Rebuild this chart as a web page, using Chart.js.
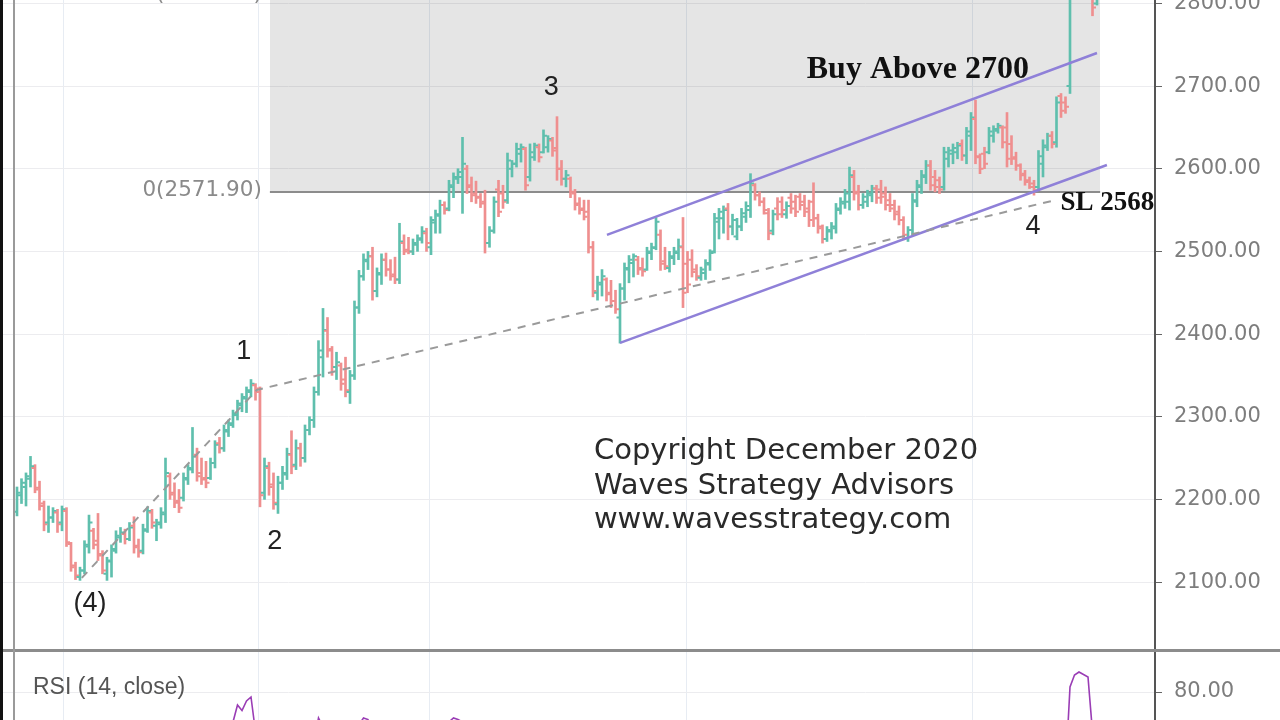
<!DOCTYPE html>
<html><head><meta charset="utf-8">
<script src="https://cdn.jsdelivr.net/npm/chart.js@4.4.1/dist/chart.umd.min.js"></script>
<style>
html,body{margin:0;padding:0;width:1280px;height:720px;overflow:hidden;background:#fff;}
#wrap{position:relative;width:1280px;height:720px;overflow:hidden;}
#main{position:absolute;left:0;top:0;}
#rsi{position:absolute;left:0;top:652px;}
.sep{position:absolute;left:0;top:649px;width:1280px;height:3px;background:#8c8c8c;}
.lb{position:absolute;left:0;top:0;width:3px;height:720px;background:#111;}
.lg{position:absolute;left:13px;top:0;width:2px;height:720px;background:#9a9a9a;}
</style></head><body>
<div id="wrap">
<canvas id="main" width="1280" height="650"></canvas>
<canvas id="rsi" width="1280" height="340"></canvas>
<div class="sep"></div><div class="lb"></div><div class="lg"></div>
</div>
<script>
// ---------- data ----------
const opens = [2185,2205,2215,2225,2238,2214,2195,2172,2178,2184,2172,2186,2146,2120,2106,2114,2143,2162,2150,2134,
2110,2125,2138,2154,2158,2152,2168,2144,2138,2162,2184,2168,2170,2182,2228,2208,2198,2202,2224,2236,
2254,2232,2226,2226,2244,2268,2262,2282,2290,2302,2314,2322,2330,2338,2334,2208,2238,2218,2194,2220,
2230,2254,2242,2262,2250,2284,2296,2330,2372,2404,2382,2360,2362,2345,2330,2350,2432,2470,2488,2494,
2452,2472,2490,2478,2472,2466,2510,2502,2500,2508,2514,2522,2505,2535,2543,2556,2552,2578,2588,2590,
2600,2580,2570,2566,2560,2510,2525,2575,2570,2562,2600,2606,2618,2624,2590,2614,2626,2620,2626,2634,
2625,2600,2588,2588,2570,2558,2552,2548,2505,2450,2460,2466,2450,2440,2420,2455,2478,2486,2490,2480,
2478,2498,2504,2520,2488,2480,2492,2498,2505,2485,2490,2478,2468,2474,2484,2500,2536,2540,2552,2530,
2518,2530,2542,2550,2580,2568,2560,2546,2525,2552,2560,2545,2565,2560,2566,2560,2552,2560,2540,2530,
2515,2524,2528,2550,2558,2560,2590,2572,2556,2560,2568,2576,2575,2570,2562,2556,2548,2538,2516,2526,
2560,2578,2590,2604,2590,2586,2578,2612,2618,2620,2630,2616,2640,2660,2614,2618,2620,2640,2646,2650,
2650,2630,2614,2604,2594,2586,2582,2578,2606,2626,2640,2632,2688,2680,2700,2820,2850,2860,2838,2825,2800];
const highs = [2215,2225,2232,2252,2242,2222,2198,2192,2190,2188,2192,2190,2148,2124,2118,2150,2181,2165,2183,2138,
2130,2145,2162,2166,2164,2172,2179,2152,2170,2191,2188,2176,2190,2250,2232,2220,2212,2232,2242,2287,
2262,2250,2246,2250,2271,2275,2290,2296,2308,2320,2328,2336,2345,2340,2336,2250,2245,2232,2228,2240,
2262,2283,2272,2268,2290,2300,2336,2392,2431,2420,2385,2378,2365,2372,2356,2440,2477,2497,2500,2505,
2480,2497,2498,2490,2493,2534,2520,2517,2515,2520,2530,2528,2542,2550,2562,2560,2586,2595,2600,2638,
2604,2590,2585,2570,2574,2530,2566,2586,2580,2619,2610,2631,2630,2626,2630,2631,2630,2647,2640,2638,
2663,2610,2598,2590,2575,2565,2562,2562,2512,2470,2478,2468,2465,2453,2461,2486,2495,2497,2494,2492,
2505,2510,2541,2526,2505,2500,2505,2515,2541,2500,2502,2484,2481,2490,2502,2546,2552,2555,2558,2545,
2540,2552,2560,2594,2582,2572,2565,2552,2550,2565,2566,2560,2570,2568,2570,2568,2562,2583,2545,2532,
2530,2535,2558,2565,2575,2602,2598,2580,2570,2574,2580,2580,2586,2578,2570,2562,2555,2542,2530,2570,
2586,2598,2610,2610,2598,2590,2626,2626,2630,2632,2635,2650,2668,2683,2618,2626,2650,2652,2655,2652,
2668,2640,2620,2606,2598,2590,2586,2622,2635,2643,2645,2687,2691,2687,2830,2860,2880,2875,2860,2830,2850];
const lows = [2180,2195,2192,2215,2208,2187,2162,2160,2172,2160,2162,2143,2113,2103,2102,2110,2135,2140,2126,2110,
2102,2106,2135,2148,2146,2150,2135,2130,2134,2160,2165,2150,2165,2172,2200,2190,2184,2198,2218,2232,
2222,2218,2214,2224,2238,2256,2258,2276,2287,2296,2306,2305,2324,2320,2191,2200,2205,2188,2183,2212,
2224,2231,2236,2240,2245,2278,2287,2326,2348,2372,2350,2345,2332,2324,2316,2345,2425,2465,2478,2441,
2445,2460,2470,2465,2461,2461,2496,2497,2496,2500,2510,2500,2496,2522,2522,2545,2549,2565,2582,2546,
2570,2560,2558,2553,2498,2505,2522,2542,2552,2558,2590,2602,2608,2574,2585,2610,2608,2619,2620,2615,
2586,2580,2578,2565,2550,2545,2538,2498,2445,2441,2446,2440,2432,2425,2389,2441,2462,2469,2472,2470,
2477,2490,2502,2477,2478,2475,2484,2490,2432,2450,2469,2465,2465,2466,2477,2498,2515,2522,2514,2520,
2514,2525,2535,2541,2562,2555,2545,2514,2520,2538,2541,2540,2546,2542,2550,2542,2530,2530,2522,2510,
2512,2515,2522,2545,2552,2550,2562,2550,2552,2554,2560,2558,2558,2550,2548,2538,2532,2514,2512,2520,
2554,2570,2582,2574,2572,2570,2574,2602,2606,2612,2610,2606,2622,2606,2594,2600,2618,2632,2643,2625,
2602,2605,2598,2586,2580,2576,2568,2574,2590,2622,2625,2626,2662,2667,2691,2810,2830,2825,2812,2785,2798];
const closes = [2208,2220,2228,2240,2212,2192,2170,2178,2186,2170,2188,2148,2118,2108,2114,2145,2172,2145,2132,2114,
2126,2140,2156,2160,2152,2166,2142,2136,2164,2186,2172,2172,2184,2232,2206,2196,2190,2226,2238,2252,
2228,2224,2220,2244,2266,2262,2284,2292,2304,2316,2324,2332,2340,2330,2205,2240,2215,2196,2220,2232,
2255,2240,2262,2250,2284,2296,2330,2380,2405,2380,2360,2366,2340,2332,2350,2432,2470,2490,2494,2452,
2474,2490,2478,2470,2466,2512,2500,2500,2510,2516,2524,2510,2538,2545,2556,2550,2580,2590,2596,2606,
2578,2568,2565,2558,2510,2525,2560,2548,2560,2610,2606,2624,2626,2580,2620,2628,2614,2640,2636,2622,
2600,2588,2592,2572,2556,2550,2542,2505,2452,2462,2470,2448,2440,2430,2455,2480,2490,2494,2478,2476,
2500,2505,2536,2485,2482,2494,2500,2506,2450,2460,2475,2470,2478,2486,2498,2540,2548,2550,2530,2538,
2530,2546,2555,2582,2568,2560,2550,2522,2545,2545,2550,2555,2552,2548,2556,2548,2538,2540,2528,2515,
2526,2530,2552,2560,2570,2592,2570,2556,2566,2570,2576,2565,2566,2556,2552,2545,2538,2520,2526,2562,
2580,2592,2604,2580,2578,2575,2620,2622,2625,2628,2616,2645,2662,2615,2600,2606,2645,2648,2652,2632,
2612,2612,2604,2592,2584,2578,2574,2615,2628,2640,2630,2680,2670,2675,2820,2850,2862,2840,2820,2795,2830];
const rsiValues = [55,58,60,63,55,48,42,45,47,44,48,
38,32,30,33,40,48,43,40,35,40,
44,49,50,48,52,45,43,50,56,52,
52,55,66,58,55,53,58,61,64,56,
55,54,59,64,62,67,70,74,77.4,76.3,
78.2,79,72,45,50,45,41,47,50,55,
50,54,52,58,61,70,74.8,73,69,64,
65,60,58,62,71,73.5,74.8,74.5,65,68,
70,67,65,64,69,66,66,67,68,69,
65,70,71,72,71,74,74.8,74.5,74,69,
66,65,63,53,56,62,58,60,66,65,
68,68,58,64,66,63,67,66,63,60,
57,58,54,50,49,47,40,32,35,37,
34,32,30,38,45,48,49,46,45,51,
52,58,48,47,50,52,53,42,44,46,
45,47,50,53,60,61,61,56,57,55,
58,60,65,61,59,57,51,55,55,56,
57,56,55,56,54,52,53,50,47,50,
51,56,58,60,64,59,56,58,59,60,
58,58,55,53,51,49,46,48,56,59,
61,63,57,56,55,62,63,63,64,60,
64,67,57,54,55,59,60,61,57,54,
54,52,50,48,47,46,53,57,59,57,
65,63,64,81,83.4,84,83.5,83,72,73];
const priceTicks = [2100,2200,2300,2400,2500,2600,2700,2800];
const rsiTicks = [20,50,80];
const timeGridIdx = [10.4,53.6,91.6,148.7,212.4];   // vertical time grid lines (bar index)
const fibZero = 2571.9;
const fibSpanIdx = [56.2,240.7];
const channelUpper = [[131.1,2519.9],[240,2740]];
const channelLower = [[134,2389.4],[242.2,2604.5]];
const trendDashed = [[14.4,2105],[53.3,2332.4],[230.7,2562]];

// ---------- chart setup ----------
const GREEN='#5fbfad', RED='#ef8f8f';
const barColors = closes.map((c,i)=> c>=opens[i]?GREEN:RED);
const X_MIN=-17/4.5, X_MAX=(1155-17)/4.5;
const noPad = s=>{s.paddingTop=0;s.paddingBottom=0;s.paddingLeft=0;s.paddingRight=0;};
const xScale = () => ({
  type:'linear', min:X_MIN, max:X_MAX, offset:false,
  grid:{color:'#e7ecf3', lineWidth:1, drawTicks:false, offset:false},
  border:{display:false}, ticks:{display:false},
  afterBuildTicks:s=>{s.ticks=timeGridIdx.map(v=>({value:v}));},
  afterFit:s=>{s.height=0; noPad(s);}
});
const yCommon = (min,max,ticks)=>({
  type:'linear', position:'right', min, max,
  afterBuildTicks:s=>{s.ticks=ticks.map(v=>({value:v}));},
  afterFit:s=>{s.width=125; noPad(s);},
  grid:{color:'#ececef', tickColor:'#666', tickLength:7, lineWidth:1},
  border:{color:'#555', width:2},
  ticks:{color:'#7d7d7d', font:{family:'DejaVu Sans', size:21}, padding:12, callback:v=>Number(v).toFixed(2)}
});

const ohlcTicks = {
  id:'ohlcTicks',
  afterDatasetDraw(chart,args){
    if(args.index!==0) return;
    const {ctx,chartArea,scales:{x,y}}=chart;
    ctx.save();
    ctx.beginPath(); ctx.rect(chartArea.left,chartArea.top,chartArea.width,chartArea.height); ctx.clip();
    ctx.lineWidth=2;
    for(let i=0;i<opens.length;i++){
      const px=x.getPixelForValue(i), yo=y.getPixelForValue(opens[i]), yc=y.getPixelForValue(closes[i]);
      ctx.strokeStyle=barColors[i];
      ctx.beginPath();
      ctx.moveTo(px-3.5,yo); ctx.lineTo(px,yo);
      ctx.moveTo(px,yc); ctx.lineTo(px+3.5,yc);
      ctx.stroke();
    }
    ctx.restore();
  }
};

const notes = [
  {t:'(4)', x:16.2, y:2073.5, f:'27px "Liberation Sans"', c:'#222', a:'center'},
  {t:'1', x:50.4, y:2378.3, f:'27px "Liberation Sans"', c:'#222', a:'center'},
  {t:'2', x:57.3, y:2148.5, f:'27px "Liberation Sans"', c:'#222', a:'center'},
  {t:'3', x:118.7, y:2697.7, f:'27px "Liberation Sans"', c:'#222', a:'center'},
  {t:'4', x:225.8, y:2529.5, f:'27px "Liberation Sans"', c:'#222', a:'center'},
  {t:'Buy Above 2700', x:200.2, y:2719.4, f:'bold 32px "Liberation Serif"', c:'#111', a:'center'},
  {t:'SL 2568', x:242.3, y:2558.6, f:'bold 27px "Liberation Serif"', c:'#111', a:'center'},
  {t:'0(2571.90)', x:54.4, y:2574.3, f:'21.5px "DejaVu Sans"', c:'#8a8a8a', a:'right'},
  {t:'1(2811.00)', x:54.4, y:2811.2, f:'21.5px "DejaVu Sans"', c:'#8a8a8a', a:'right'},
  {t:'Copyright December 2020', x:128.2, y:2257.5, f:'29px "DejaVu Sans"', c:'#2a2a2a', a:'left'},
  {t:'Waves Strategy Advisors', x:128.2, y:2215.5, f:'29px "DejaVu Sans"', c:'#2a2a2a', a:'left'},
  {t:'www.wavesstrategy.com', x:128.2, y:2175, f:'29px "DejaVu Sans"', c:'#2a2a2a', a:'left'}
];
const notesPlugin = {
  id:'notes',
  afterDraw(chart){
    const {ctx,scales:{x,y}}=chart;
    ctx.save();
    ctx.textBaseline='middle';
    for(const n of notes){
      ctx.font=n.f; ctx.fillStyle=n.c; ctx.textAlign=n.a;
      ctx.fillText(n.t, x.getPixelForValue(n.x), y.getPixelForValue(n.y));
    }
    ctx.restore();
  }
};

const pts = arr => arr.map(p=>({x:p[0],y:p[1]}));

new Chart(document.getElementById('main'),{
  type:'bar',
  data:{datasets:[
    {type:'bar', data:lows.map((l,i)=>({x:i,y:[l,highs[i]]})), backgroundColor:barColors, borderWidth:0,
     barThickness:2, grouped:false, order:2},
    {type:'line', data:[{x:fibSpanIdx[0],y:fibZero},{x:fibSpanIdx[1],y:fibZero}], borderColor:'#8c8c8c', borderWidth:2,
     backgroundColor:'rgba(0,0,0,0.1)', fill:'end', pointRadius:0, order:3},
    {type:'line', data:pts(trendDashed), borderColor:'#9a9a9a', borderWidth:2, borderDash:[8,7], pointRadius:0, fill:false, order:1},
    {type:'line', data:pts(channelUpper), borderColor:'#8f80d8', borderWidth:2.5, pointRadius:0, fill:false, order:1},
    {type:'line', data:pts(channelLower), borderColor:'#8f80d8', borderWidth:2.5, pointRadius:0, fill:false, order:1}
  ]},
  options:{
    responsive:false, animation:false, events:[],
    layout:{padding:0},
    plugins:{legend:{display:false}, tooltip:{enabled:false}},
    scales:{x:xScale(), y:yCommon(2017.8, 2804.1, priceTicks)}
  },
  plugins:[ohlcTicks, notesPlugin]
});

const rsiLabel = {
  id:'rsiLabel',
  afterDraw(chart){
    const {ctx}=chart;
    ctx.save();
    ctx.font='23px "Liberation Sans"'; ctx.fillStyle='#555'; ctx.textBaseline='middle'; ctx.textAlign='left';
    ctx.fillText('RSI (14, close)', 33, 36);
    ctx.restore();
  }
};

new Chart(document.getElementById('rsi'),{
  type:'line',
  data:{datasets:[{data:rsiValues.map((v,i)=>({x:i,y:v})), borderColor:'#9a3db5', borderWidth:1.6, pointRadius:0, fill:false, tension:0}]},
  options:{
    responsive:false, animation:false, events:[],
    layout:{padding:0},
    plugins:{legend:{display:false}, tooltip:{enabled:false}},
    scales:{x:xScale(), y:yCommon(20, 88, rsiTicks)}
  },
  plugins:[rsiLabel]
});
</script>
</body></html>
